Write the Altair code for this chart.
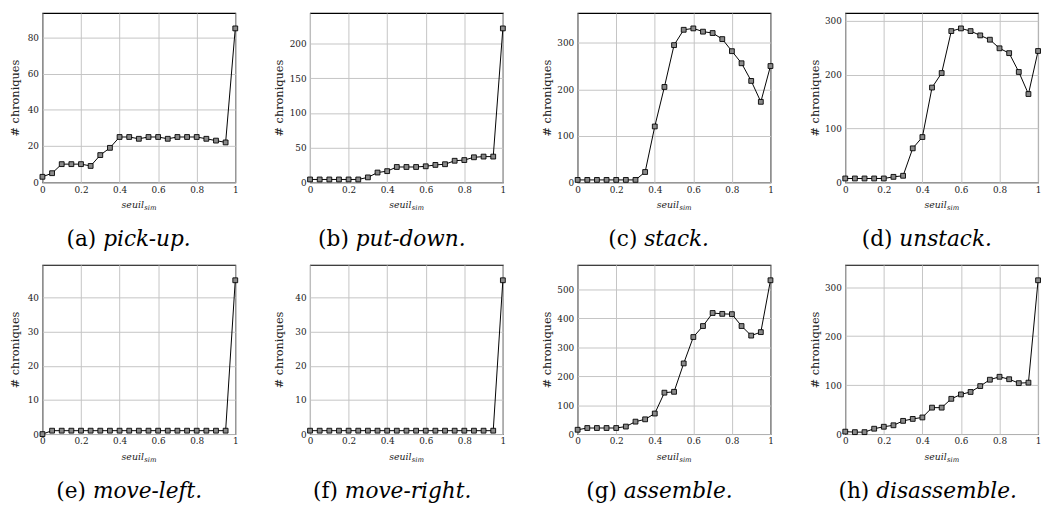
import altair as alt
import pandas as pd

# ---------------- data ----------------
seuil = [0, 0.05, 0.1, 0.15, 0.2, 0.25, 0.3, 0.35, 0.4, 0.45, 0.5,
         0.55, 0.6, 0.65, 0.7, 0.75, 0.8, 0.85, 0.9, 0.95, 1]
x_ticks = [0, 0.2, 0.4, 0.6, 0.8, 1]

pick_up = [3, 5, 10, 10, 10, 9, 15, 19, 25, 25, 24, 25, 25, 24, 25, 25, 25, 24, 23, 22, 85]
put_down = [4, 4, 4, 4, 4, 4, 7, 14, 16, 22, 22, 22, 23, 25, 26, 31, 32, 36, 37, 37, 222]
stack = [5, 5, 5, 5, 5, 5, 5, 22, 120, 205, 295, 328, 331, 324, 321, 308, 282, 256, 218, 173, 250]
unstack = [7, 7, 7, 7, 7, 10, 12, 63, 84, 176, 203, 281, 286, 281, 273, 265, 249, 240, 205, 164, 244]
move_left = [0, 1, 1, 1, 1, 1, 1, 1, 1, 1, 1, 1, 1, 1, 1, 1, 1, 1, 1, 1, 45]
move_right = [1, 1, 1, 1, 1, 1, 1, 1, 1, 1, 1, 1, 1, 1, 1, 1, 1, 1, 1, 1, 45]
assemble = [15, 21, 21, 21, 21, 26, 43, 51, 71, 143, 146, 244, 335, 373, 418, 415, 414, 373, 340, 352, 531]
disassemble = [5, 4, 4, 11, 15, 18, 27, 31, 34, 54, 54, 72, 81, 86, 98, 111, 117, 112, 104, 105, 314]

ticks_a = [0, 20, 40, 60, 80]
ticks_b = [0, 50, 100, 150, 200]
ticks_c = [0, 100, 200, 300]
ticks_d = [0, 100, 200, 300]
ticks_e = [0, 10, 20, 30, 40]
ticks_f = [0, 10, 20, 30, 40]
ticks_g = [0, 100, 200, 300, 400, 500]
ticks_h = [0, 100, 200, 300]

letters = ["(a)", "(b)", "(c)", "(d)", "(e)", "(f)", "(g)", "(h)"]
names = ["pick-up.", "put-down.", "stack.", "unstack.",
         "move-left.", "move-right.", "assemble.", "disassemble."]

# ---------------- layout helpers ----------------
W, H = 196, 172
FONT = "DejaVu Serif"
CAP_FS = 22
CAP_Y = 65
# approximate DejaVu Serif advance widths (em)
CW = {"(": .39, ")": .39, "a": .596, "b": .64, "c": .56, "d": .64, "e": .592,
      "f": .37, "g": .64, "h": .644, "i": .32, "k": .6, "l": .32, "m": .948,
      "n": .644, "o": .602, "p": .64, "r": .478, "s": .513, "t": .402,
      "u": .644, "v": .565, "w": .856, "-": .338, ".": .318, " ": .318}


def text_w(s, fs):
    return sum(CW.get(c, .6) for c in s) * fs


def panel(vals, ticks, letter, name, extent, cap_center):
    df = pd.DataFrame({"seuil": seuil, "n": vals})
    ymax = max(vals) * 1.1
    base = alt.Chart(df).encode(
        x=alt.X("seuil:Q",
                scale=alt.Scale(domain=[0, 1], nice=False, zero=False),
                axis=alt.Axis(values=x_ticks, format="~g", title=None,
                              labelFlush=False, labelOverlap=False,
                              labelPadding=3, labelFontSize=9)),
        y=alt.Y("n:Q",
                scale=alt.Scale(domain=[0, ymax], nice=False),
                axis=alt.Axis(values=ticks, title="# chroniques",
                              labelFlush=False, labelOverlap=False,
                              labelPadding=4, labelFontSize=9,
                              minExtent=extent, maxExtent=extent,
                              titlePadding=2.5, titleFontSize=11.5,
                              titleFontWeight="normal")),
    )
    line = base.mark_line(color="black", strokeWidth=1)
    pts = base.mark_point(shape="square", size=24, filled=True, fill="#8a8a8a",
                          stroke="black", strokeWidth=0.9, opacity=1)

    # x-axis title  seuil_sim
    w1 = text_w("seuil", 9.5)
    w2 = text_w("sim", 7)
    split = W / 2 - (w1 + w2) / 2 + w1
    t1 = alt.Chart(pd.DataFrame({"t": ["seuil"]})).mark_text(
        font=FONT, fontSize=9.5, fontStyle="italic", align="right",
        baseline="alphabetic", color="#222").encode(
        text="t:N", x=alt.value(split), y=alt.value(H + 26))
    t2 = alt.Chart(pd.DataFrame({"t": ["sim"]})).mark_text(
        font=FONT, fontSize=7, fontStyle="italic", align="left",
        baseline="alphabetic", color="#222").encode(
        text="t:N", x=alt.value(split + 0.3), y=alt.value(H + 28.5))

    # caption
    wl = text_w(letter, CAP_FS)
    gap = text_w(" ", CAP_FS)
    wn = text_w(name, CAP_FS) * 0.96
    start = cap_center - (wl + gap + wn) / 2
    c1 = alt.Chart(pd.DataFrame({"t": [letter]})).mark_text(
        font=FONT, fontSize=CAP_FS, align="left", baseline="alphabetic",
        color="black").encode(text="t:N", x=alt.value(start), y=alt.value(H + CAP_Y))
    c2 = alt.Chart(pd.DataFrame({"t": [name]})).mark_text(
        font=FONT, fontSize=CAP_FS, fontStyle="italic", align="left",
        baseline="alphabetic", color="black").encode(
        text="t:N", x=alt.value(start + wl + gap), y=alt.value(H + CAP_Y))

    return alt.layer(line, pts, t1, t2, c1, c2).properties(width=W, height=H)


row1 = alt.hconcat(
    panel(pick_up, ticks_a, letters[0], names[0], 20, 86),
    panel(put_down, ticks_b, letters[1], names[1], 23, 81),
    panel(stack, ticks_c, letters[2], names[2], 23, 81),
    panel(unstack, ticks_d, letters[3], names[3], 23, 81),
    spacing=33,
)
row2 = alt.hconcat(
    panel(move_left, ticks_e, letters[4], names[4], 20, 86),
    panel(move_right, ticks_f, letters[5], names[5], 23, 81),
    panel(assemble, ticks_g, letters[6], names[6], 23, 81),
    panel(disassemble, ticks_h, letters[7], names[7], 23, 81),
    spacing=33,
)

chart = alt.vconcat(row1, row2, spacing=13).properties(
    padding={"left": 0, "top": 0, "right": 0, "bottom": 0}
).configure(
    font=FONT,
).configure_view(
    stroke="black", strokeWidth=1.1
).configure_axis(
    domain=False, ticks=False,
    grid=True, gridColor="#c4c4c4", gridWidth=1,
    labelColor="#222", titleColor="#222",
    labelFont=FONT, titleFont=FONT,
)

chart.save("out.html", embed_options={"renderer": "svg", "actions": False})
